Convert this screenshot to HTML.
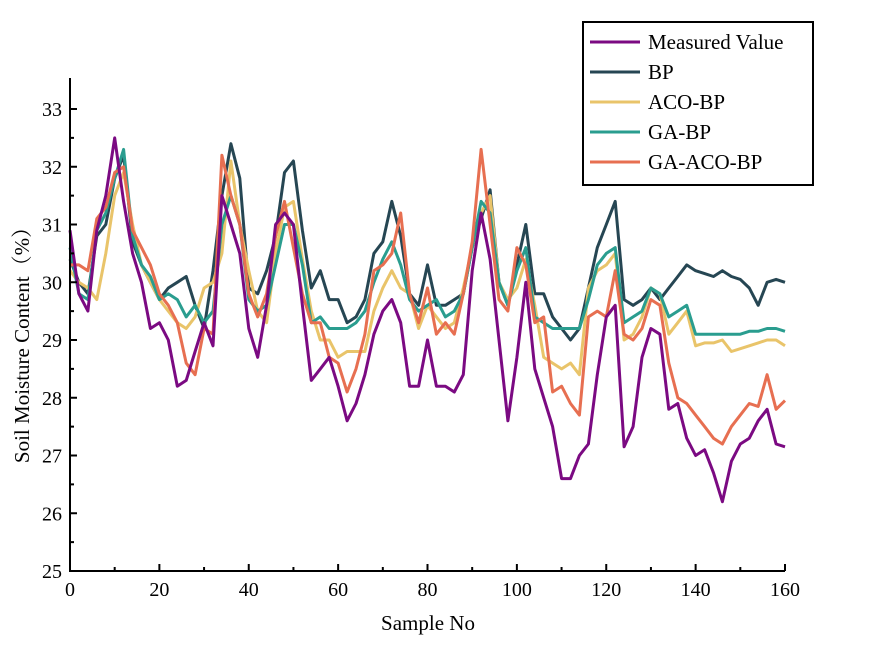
<!DOCTYPE html>
<html><head><meta charset="utf-8"><style>
body{margin:0;background:#fff}
svg text{font-family:"Liberation Serif","Noto Serif CJK SC",serif;fill:#000}
</style></head><body>
<svg id="chart" width="892" height="642" viewBox="0 0 892 642" xmlns="http://www.w3.org/2000/svg">
<g id="plot"></g>
<g id="axes"></g>
<text x="428" y="630" font-size="21" text-anchor="middle">Sample No</text>
<text transform="translate(29,340) rotate(-90)" font-size="21" text-anchor="middle">Soil Moisture Content（%）</text>
<g id="legend"></g>
</svg>
<script>
const samples = [0,2,4,6,8,10,12,14,16,18,20,22,24,26,28,30,32,34,36,38,40,42,44,46,48,50,52,54,56,58,60,62,64,66,68,70,72,74,76,78,80,82,84,86,88,90,92,94,96,98,100,102,104,106,108,110,112,114,116,118,120,122,124,126,128,130,132,134,136,138,140,142,144,146,148,150,152,154,156,158,160];
const measured = [30.9,29.8,29.5,30.9,31.5,32.5,31.4,30.5,30.0,29.2,29.3,29.0,28.2,28.3,28.8,29.3,28.9,31.5,31.0,30.5,29.2,28.7,29.6,31.0,31.2,31.0,29.6,28.3,28.5,28.7,28.2,27.6,27.9,28.4,29.1,29.5,29.7,29.3,28.2,28.2,29.0,28.2,28.2,28.1,28.4,30.2,31.2,30.4,29.0,27.6,28.7,30.0,28.5,28.0,27.5,26.6,26.6,27.0,27.2,28.4,29.4,29.6,27.15,27.5,28.7,29.2,29.1,27.8,27.9,27.3,27.0,27.1,26.7,26.2,26.9,27.2,27.3,27.6,27.8,27.2,27.15];
const bp = [30.4,30.0,29.8,30.8,31.0,31.8,32.2,30.7,30.3,30.0,29.7,29.9,30.0,30.1,29.6,29.2,30.2,31.5,32.4,31.8,29.9,29.8,30.2,30.8,31.9,32.1,30.9,29.9,30.2,29.7,29.7,29.3,29.4,29.7,30.5,30.7,31.4,30.8,29.8,29.6,30.3,29.6,29.6,29.7,29.8,30.6,31.1,31.6,30.0,29.6,30.3,31.0,29.8,29.8,29.4,29.2,29.0,29.2,29.9,30.6,31.0,31.4,29.7,29.6,29.7,29.9,29.7,29.9,30.1,30.3,30.2,30.15,30.1,30.2,30.1,30.05,29.9,29.6,30.0,30.05,30.0];
const acoBp = [30.2,30.0,29.9,29.7,30.5,31.5,31.9,31.0,30.3,30.0,29.7,29.5,29.3,29.2,29.4,29.9,30.0,30.5,32.1,31.0,30.2,29.5,29.3,30.5,31.3,31.4,30.4,29.5,29.0,29.0,28.7,28.8,28.8,28.8,29.5,29.9,30.2,29.9,29.8,29.2,29.6,29.4,29.2,29.3,29.9,30.6,31.2,31.5,30.0,29.7,29.9,30.4,29.6,28.7,28.6,28.5,28.6,28.4,29.9,30.2,30.3,30.5,29.0,29.1,29.4,29.9,29.8,29.1,29.3,29.5,28.9,28.95,28.95,29.0,28.8,28.85,28.9,28.95,29.0,29.0,28.9];
const gaBp = [30.6,29.8,29.7,30.9,31.2,31.8,32.3,30.8,30.3,30.1,29.7,29.8,29.7,29.4,29.6,29.3,29.5,31.0,31.5,31.0,29.7,29.5,29.6,30.3,31.0,31.0,30.3,29.3,29.4,29.2,29.2,29.2,29.3,29.5,30.0,30.4,30.7,30.3,29.7,29.5,29.6,29.7,29.4,29.5,29.8,30.6,31.4,31.2,30.0,29.6,30.2,30.6,29.4,29.3,29.2,29.2,29.2,29.2,29.7,30.3,30.5,30.6,29.3,29.4,29.5,29.9,29.8,29.4,29.5,29.6,29.1,29.1,29.1,29.1,29.1,29.1,29.15,29.15,29.2,29.2,29.15];
const gaAcoBp = [30.3,30.3,30.2,31.1,31.3,31.9,32.0,30.9,30.6,30.3,29.8,29.6,29.3,28.6,28.4,29.2,29.1,32.2,31.5,31.0,29.8,29.4,29.8,30.8,31.4,30.6,29.8,29.3,29.3,28.7,28.6,28.1,28.5,29.1,30.2,30.3,30.5,31.2,29.8,29.3,29.9,29.1,29.3,29.1,29.8,30.7,32.3,31.0,29.7,29.5,30.6,30.3,29.3,29.4,28.1,28.2,27.9,27.7,29.4,29.5,29.4,30.2,29.1,29.0,29.2,29.7,29.6,28.6,28.0,27.9,27.7,27.5,27.3,27.2,27.5,27.7,27.9,27.85,28.4,27.8,27.95];
const seriesNames = ["Measured Value","BP","ACO-BP","GA-BP","GA-ACO-BP"];
const xTicks = [0,20,40,60,80,100,120,140,160];
const yTicks = [25,26,27,28,29,30,31,32,33];

const NS="http://www.w3.org/2000/svg";
const X0=70,X1=785,Y0=571,Y1=109;
const sx=v=>X0+(v-0)/(160-0)*(X1-X0);
const sy=v=>Y0-(v-25)/(33-25)*(Y0-Y1);
function mk(tag,attrs,parent){const e=document.createElementNS(NS,tag);for(const k in attrs)e.setAttribute(k,attrs[k]);parent.appendChild(e);return e;}
const plot=document.getElementById('plot'),axes=document.getElementById('axes'),legend=document.getElementById('legend');
const allSeries=[measured,bp,acoBp,gaBp,gaAcoBp];
const colors=["#7b0a82","#264653","#e9c46a","#2a9d8f","#e76f51"];
const lineNames=["measured-line","bp-line","aco-bp-line","ga-bp-line","ga-aco-bp-line"];
const order=[1,2,3,4,0];
order.forEach(i=>{
  const d=allSeries[i].map((v,j)=>(j?'L':'M')+sx(samples[j]).toFixed(1)+','+sy(v).toFixed(1)).join(' ');
  const p=mk('path',{d:d,fill:'none',stroke:colors[i],'stroke-width':3,'stroke-linejoin':'round'},plot);
  
  
});
// axes
const ya=mk('line',{x1:X0,y1:Y0,x2:X0,y2:78,stroke:'#000','stroke-width':2},axes);


const xa=mk('line',{x1:X0-1,y1:Y0,x2:X1,y2:Y0,stroke:'#000','stroke-width':2},axes);


xTicks.forEach(t=>{
  mk('line',{x1:sx(t),y1:Y0,x2:sx(t),y2:Y0-7,stroke:'#000','stroke-width':2},axes);
  if(t<160)mk('line',{x1:sx(t+10),y1:Y0,x2:sx(t+10),y2:Y0-4,stroke:'#000','stroke-width':2},axes);
  const tx=mk('text',{x:sx(t),y:Y0+25,'font-size':20,'text-anchor':'middle'},axes);
  tx.textContent=t;
  
  
});
yTicks.forEach(t=>{
  mk('line',{x1:X0,y1:sy(t),x2:X0+7,y2:sy(t),stroke:'#000','stroke-width':2},axes);
  if(t<33)mk('line',{x1:X0,y1:sy(t+0.5),x2:X0+4,y2:sy(t+0.5),stroke:'#000','stroke-width':2},axes);
  const tx=mk('text',{x:X0-8,y:sy(t)+7,'font-size':20,'text-anchor':'end'},axes);
  tx.textContent=t;
  
  
});
// legend
mk('rect',{x:583,y:22,width:230,height:163,fill:'#fff',stroke:'#000','stroke-width':2},legend);
seriesNames.forEach((n,i)=>{
  const y=42+i*30;
  mk('line',{x1:590,y1:y,x2:640,y2:y,stroke:colors[i],'stroke-width':3},legend);
  const tx=mk('text',{x:648,y:y+7,'font-size':21},legend);
  tx.textContent=n;
  
  
});
</script>
</body></html>
